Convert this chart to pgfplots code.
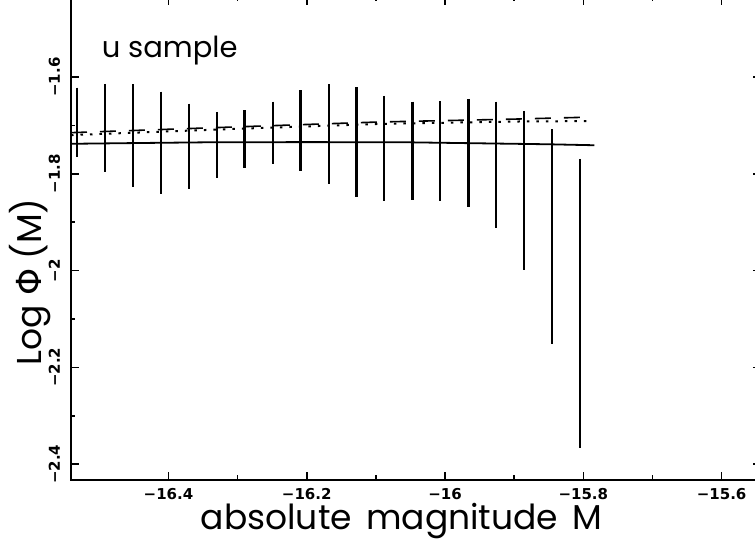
\documentclass[border=0pt]{standalone}
\usepackage{pgfplots}
\pgfplotsset{compat=1.18}
\usepackage{fontspec}
\newfontfamily\tickfont{DejaVu Sans}
\newfontfamily\labfont{Poppins}
\newfontfamily\phifont{DejaVu Sans}
\newcommand{\tkfont}{\tickfont\bfseries\fontsize{15bp}{18bp}\selectfont}
\newcommand{\lbfont}{\labfont\fontsize{34.5bp}{40bp}\selectfont}
\newcommand{\smfont}{\labfont\fontsize{29bp}{34bp}\selectfont}
\begin{document}
\begin{tikzpicture}
\begin{axis}[
  name=ax,
  scale only axis,
  width=690bp, height=483bp,
  xmin=-16.541, xmax=-15.543,
  ymin=-2.4326, ymax=-1.4347,
  xtick={-16.4,-16.2,-16,-15.8,-15.6},
  xticklabels={−16.4,−16.2,−16,−15.8,−15.6},
  ytick={-2.4,-2.2,-2,-1.8,-1.6},
  yticklabels={−2.4,−2.2,−2,−1.8,−1.6},
  minor x tick num=1, minor y tick num=1,
  major tick length=8bp, minor tick length=4.5bp,
  every tick/.style={black, line width=1.6bp},
  axis line style={line width=2bp},
  xticklabel style={font=\tkfont, anchor=base, yshift=-20bp, inner sep=0pt},
  yticklabel style={font=\tkfont, xshift=-11bp, rotate=90, anchor=base, inner sep=0pt},
  xlabel={absolute\hspace{5bp} magnitude\hspace{5bp} M},
  ylabel={Log {\phifont Φ} (M)},
  xlabel style={font=\lbfont, at={(axis description cs:0.479,-0.1035)}, anchor=base, inner sep=0pt},
  ylabel style={font=\lbfont, at={(axis description cs:-0.0428,0.41)}, anchor=base, inner sep=0pt},
  unbounded coords=jump,
]
% error bars (vertical segments)
\addplot[black, line width=2.4bp] table[row sep=\\] {
x y \\
-16.532 -1.622 \\ -16.532 -1.766 \\ nan nan \\
-16.492 -1.614 \\ -16.492 -1.796 \\ nan nan \\
-16.451 -1.615 \\ -16.451 -1.827 \\ nan nan \\
-16.411 -1.630 \\ -16.411 -1.842 \\ nan nan \\
-16.370 -1.655 \\ -16.370 -1.832 \\ nan nan \\
-16.330 -1.672 \\ -16.330 -1.809 \\ nan nan \\
-16.290 -1.669 \\ -16.290 -1.788 \\ nan nan \\
-16.249 -1.651 \\ -16.249 -1.780 \\ nan nan \\
-16.209 -1.627 \\ -16.209 -1.794 \\ nan nan \\
-16.168 -1.615 \\ -16.168 -1.822 \\ nan nan \\
-16.128 -1.621 \\ -16.128 -1.847 \\ nan nan \\
-16.088 -1.639 \\ -16.088 -1.857 \\ nan nan \\
-16.047 -1.651 \\ -16.047 -1.855 \\ nan nan \\
-16.007 -1.650 \\ -16.007 -1.856 \\ nan nan \\
-15.966 -1.645 \\ -15.966 -1.869 \\ nan nan \\
-15.926 -1.651 \\ -15.926 -1.911 \\ nan nan \\
-15.886 -1.670 \\ -15.886 -1.999 \\ nan nan \\
-15.845 -1.708 \\ -15.845 -2.152 \\ nan nan \\
-15.805 -1.769 \\ -15.805 -2.367 \\
};
% solid line
\addplot[black, line width=1.8bp] coordinates {
(-16.541,-1.738) (-16.45,-1.7365) (-16.35,-1.735) (-16.2,-1.7345) (-16.05,-1.735) (-15.95,-1.737) (-15.85,-1.739) (-15.784,-1.741)};
% dashed line
\addplot[black, line width=1.6bp, dash pattern=on 16bp off 13bp] coordinates {
(-16.541,-1.715) (-16.3,-1.703) (-16.097,-1.693) (-15.9,-1.687) (-15.793,-1.683)};
% dotted line
\addplot[black, line width=2bp, dash pattern=on 2.5bp off 7bp] coordinates {
(-16.541,-1.720) (-16.3,-1.707) (-16.097,-1.697) (-15.9,-1.692) (-15.79,-1.691)};
\node[font=\smfont, anchor=base west, inner sep=0pt] at (axis cs:-16.4966,-1.5607) {u sample};
\end{axis}
\pgfresetboundingbox
\path[use as bounding box] ([shift={(-71bp,-64bp)}]ax.south west) rectangle ([shift={(-6bp,-3bp)}]ax.north east);
\end{tikzpicture}
\end{document}
